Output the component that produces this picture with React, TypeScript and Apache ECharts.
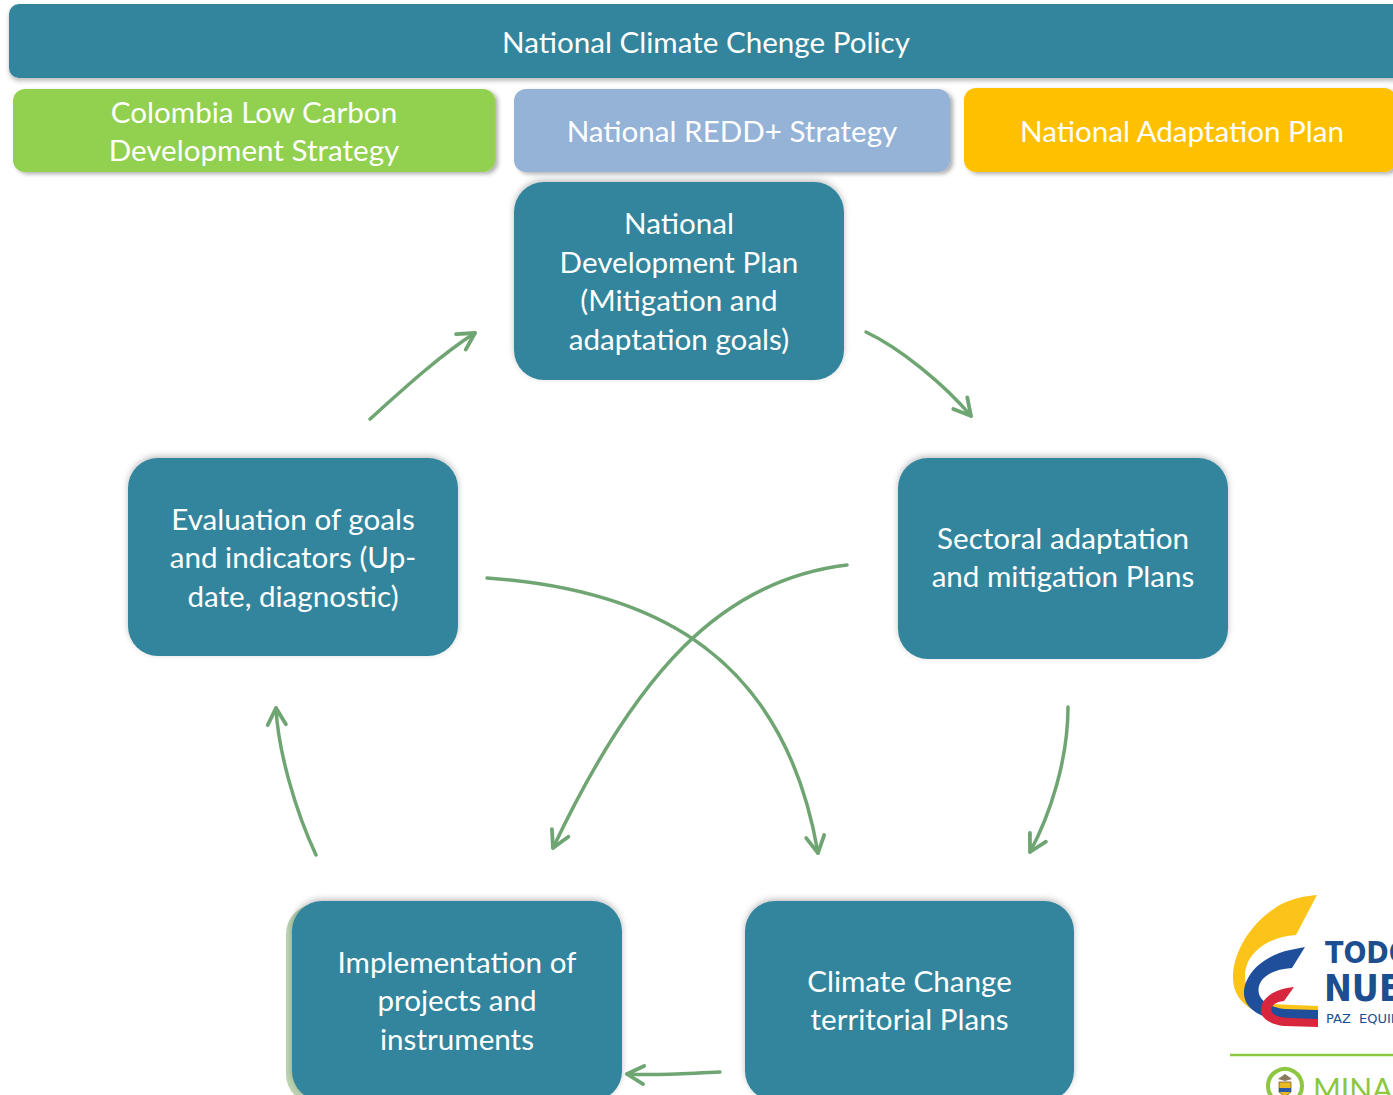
import React, { useEffect, useRef } from "react";
import * as echarts from "echarts";

// ---- content ----
const policyTitle = "National Climate Chenge Policy";
const strategyNames = [
  "Colombia Low Carbon\nDevelopment Strategy",
  "National REDD+ Strategy",
  "National Adaptation Plan",
];
const cycleSteps = [
  "National\nDevelopment Plan\n(Mitigation and\nadaptation goals)",
  "Sectoral adaptation\nand mitigation Plans",
  "Climate Change\nterritorial Plans",
  "Implementation of\nprojects and\ninstruments",
  "Evaluation of goals\nand indicators (Up-\ndate, diagnostic)",
];
const logoSlogan = ["TODOS", "NUEVO", "PAZ  EQUIDAD"];
const ministryName = "MINAMBIENTE";

// ---- layout / styles ----
const W = 1393;
const H = 1095;
const TEAL = "#31859C";
const ARROW = "#6FA573";
const FONT = "Lato, 'Noto Sans', sans-serif";
const LH = 38.5;

const strategyBoxes = [
  { x: 13, y: 89, w: 482, h: 83, color: "#92D050" },
  { x: 514, y: 89, w: 436, h: 83, color: "#95B3D7" },
  { x: 964, y: 88, w: 432, h: 84, color: "#FFC000" },
];
const stepBoxes = [
  { x: 514, y: 182, w: 330, h: 198 },
  { x: 898, y: 458, w: 330, h: 201 },
  { x: 745, y: 901, w: 329, h: 200 },
  { x: 292, y: 901, w: 330, h: 200 },
  { x: 128, y: 458, w: 330, h: 198 },
];
// x1,y1, cx1,cy1, cx2,cy2, x2,y2
const arrowCurves: number[][] = [
  [866, 332, 900, 348, 945, 385, 971, 416],
  [1068, 707, 1068, 760, 1050, 815, 1030, 852],
  [847, 565, 720, 580, 635, 675, 553, 848],
  [487, 578, 660, 590, 785, 660, 818, 853],
  [720, 1072, 690, 1073, 660, 1076, 627, 1074],
  [316, 855, 295, 810, 278, 750, 276, 708],
  [370, 419, 400, 392, 440, 355, 475, 333],
];

echarts.graphic.registerShape(
  "logoYellow",
  echarts.graphic.extendPath(
    "M1317,895 L1296,935 C1275,936 1256,946 1248,962 C1240,980 1248,998 1268,1004 L1318,1006 L1318,1014 L1272,1014 C1245,1012 1232,995 1233,975 C1234,950 1252,922 1278,906 C1290,899 1304,896 1317,895 Z",
    {}
  )
);
echarts.graphic.registerShape(
  "logoBlue",
  echarts.graphic.extendPath(
    "M1305,947 L1292,968 C1274,969 1262,976 1259,986 C1256,998 1266,1007 1285,1009 L1318,1010 L1318,1019 L1278,1019 C1256,1017 1244,1006 1244,993 C1244,975 1262,956 1290,950 Z",
    {}
  )
);
echarts.graphic.registerShape(
  "logoRed",
  echarts.graphic.extendPath(
    "M1294,987 L1284,1001 C1274,1002 1270,1007 1272,1012 C1274,1016 1282,1018 1292,1018 L1318,1019 L1318,1027 L1284,1026 C1268,1024 1260,1017 1261,1009 C1262,997 1275,989 1294,987 Z",
    {}
  )
);

function arrowHead(x2: number, y2: number, cx: number, cy: number, len = 19, ang = 0.5) {
  const a = Math.atan2(y2 - cy, x2 - cx);
  const p1 = [x2 - len * Math.cos(a - ang), y2 - len * Math.sin(a - ang)];
  const p2 = [x2 - len * Math.cos(a + ang), y2 - len * Math.sin(a + ang)];
  return {
    type: "polyline",
    shape: { points: [p1, [x2, y2], p2] },
    style: { stroke: ARROW, lineWidth: 3.8, fill: null, lineCap: "round", lineJoin: "round" },
  };
}

function buildElements() {
  const els: any[] = [];
  // top policy bar
  els.push({
    type: "rect",
    shape: { x: 9, y: 4, width: 1400, height: 74, r: 10 },
    style: { fill: TEAL, shadowBlur: 4, shadowOffsetY: 3, shadowColor: "rgba(0,0,0,0.25)" },
  });
  els.push({
    type: "text",
    style: { text: policyTitle, x: 706, y: 41, fill: "#fff", fontSize: 29.6, fontFamily: FONT, align: "center", verticalAlign: "middle" },
  });
  // strategy boxes
  strategyBoxes.forEach((b, i) => {
    els.push({
      type: "rect",
      shape: { x: b.x, y: b.y, width: b.w, height: b.h, r: 12 },
      style: { fill: b.color, shadowBlur: 4, shadowOffsetX: 3, shadowOffsetY: 2, shadowColor: "rgba(0,0,0,0.32)" },
    });
    els.push({
      type: "text",
      style: {
        text: strategyNames[i], x: b.x + (i === 2 ? 218 : b.w / 2), y: b.y + b.h / 2,
        fill: "#fff", fontSize: 29.6, fontFamily: FONT, align: "center", verticalAlign: "middle", lineHeight: 38,
      },
    });
  });
  // cycle boxes
  stepBoxes.forEach((b, i) => {
    if (i === 3) {
      els.push({
        type: "rect",
        shape: { x: b.x - 6, y: b.y + 3, width: b.w, height: b.h, r: 30 },
        style: { fill: "#BDD3B0" },
      });
    }
    els.push({
      type: "rect",
      shape: { x: b.x, y: b.y, width: b.w, height: b.h, r: 30 },
      style: { fill: TEAL, shadowBlur: 6, shadowOffsetY: -2, shadowColor: "rgba(0,0,0,0.25)" },
    });
    els.push({
      type: "text",
      style: {
        text: cycleSteps[i], x: b.x + b.w / 2, y: b.y + 98.5,
        fill: "#fff", fontSize: 29.6, fontFamily: FONT, align: "center", verticalAlign: "middle", lineHeight: LH,
      },
    });
  });
  // arrows
  arrowCurves.forEach((c) => {
    const [x1, y1, cx1, cy1, cx2, cy2, x2, y2] = c;
    els.push({
      type: "bezierCurve",
      shape: { x1, y1, cpx1: cx1, cpy1: cy1, cpx2: cx2, cpy2: cy2, x2, y2 },
      style: { stroke: ARROW, lineWidth: 3.5, fill: null, lineCap: "round" },
    });
    els.push(arrowHead(x2, y2, cx2, cy2));
  });
  // logo
  els.push({ type: "logoYellow", style: { fill: "#FCC419" } });
  els.push({ type: "logoBlue", style: { fill: "#1F4E9A" } });
  els.push({ type: "logoRed", style: { fill: "#D7263D" } });
  els.push({
    type: "text",
    style: { text: logoSlogan[0], x: 1325, y: 952, fill: "#1D4E8F", fontSize: 30, fontWeight: "bold", fontFamily: "'DejaVu Sans Condensed', 'DejaVu Sans', sans-serif", verticalAlign: "middle" },
  });
  els.push({
    type: "text",
    style: { text: logoSlogan[1], x: 1324, y: 988, fill: "#1D4E8F", fontSize: 37, fontWeight: "bold", fontFamily: "'DejaVu Sans Condensed', 'DejaVu Sans', sans-serif", verticalAlign: "middle" },
  });
  els.push({
    type: "text",
    style: { text: logoSlogan[2], x: 1326, y: 1018, fill: "#1D4E8F", fontSize: 13, fontFamily: "'DejaVu Sans', sans-serif", verticalAlign: "middle" },
  });
  els.push({
    type: "line",
    shape: { x1: 1230, y1: 1055, x2: 1400, y2: 1055 },
    style: { stroke: "#8DC63F", lineWidth: 2.5 },
  });
  els.push({
    type: "circle",
    shape: { cx: 1285, cy: 1086, r: 17 },
    style: { fill: "#fff", stroke: "#8DC63F", lineWidth: 4 },
  });
  els.push({
    type: "polygon",
    shape: { points: [[1279, 1082], [1291, 1082], [1291, 1092], [1285, 1097], [1279, 1092]] },
    style: { fill: "#E8B923", stroke: "#7a5a2a", lineWidth: 0.8 },
  });
  els.push({
    type: "rect",
    shape: { x: 1279, y: 1088, width: 12, height: 4 },
    style: { fill: "#2a5aa8" },
  });
  els.push({
    type: "polygon",
    shape: { points: [[1278, 1079], [1285, 1074], [1292, 1079], [1285, 1081]] },
    style: { fill: "#8a7a60" },
  });
  els.push({
    type: "text",
    style: { text: ministryName, x: 1313, y: 1088, fill: "#8DC63F", fontSize: 30, fontFamily: FONT, verticalAlign: "middle" },
  });
  return els;
}

export default function App() {
  const ref = useRef<HTMLDivElement>(null);
  useEffect(() => {
    const chart = echarts.init(ref.current!, null, { renderer: "svg", width: W, height: H });
    chart.setOption({ animation: false, backgroundColor: "#ffffff", graphic: { elements: buildElements() } });
    return () => chart.dispose();
  }, []);
  return <div ref={ref} style={{ position: "fixed", left: 0, top: 0, width: W, height: H }} />;
}
